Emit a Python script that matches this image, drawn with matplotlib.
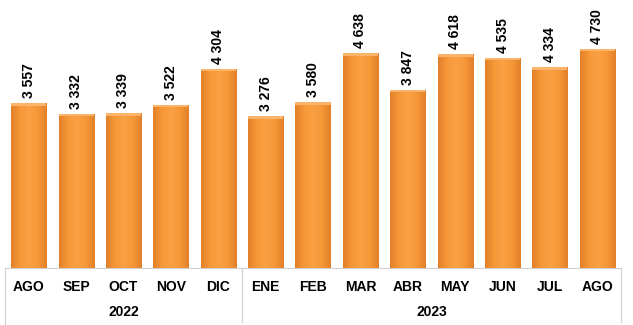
import numpy as np
import matplotlib.pyplot as plt
from matplotlib.colors import LinearSegmentedColormap

# data
months = ['AGO', 'SEP', 'OCT', 'NOV', 'DIC', 'ENE', 'FEB', 'MAR', 'ABR', 'MAY', 'JUN', 'JUL', 'AGO']
values = [3557, 3332, 3339, 3522, 4304, 3276, 3580, 4638, 3847, 4618, 4535, 4334, 4730]
years = ['2022', '2023']
year_counts = [5, 8]

plt.rcParams['font.family'] = ['Liberation Sans', 'DejaVu Sans']

fig = plt.figure(figsize=(6.33, 3.25), dpi=100)
ax = fig.add_axes([5 / 633, 57 / 325, 616 / 633, 268 / 325])

x = np.arange(len(values))
bars = ax.bar(x, values, width=0.74, color='#F59835', edgecolor='none', zorder=2)

# soft horizontal gradient on each bar (slightly darker edges)
cmap = LinearSegmentedColormap.from_list(
    'orange', ['#E3802A', '#F69838', '#F9A144', '#F69838', '#E3802A'])
gx = np.linspace(0, 1, 64).reshape(1, -1)
for b in bars:
    x0, w, h = b.get_x(), b.get_width(), b.get_height()
    im = ax.imshow(gx, cmap=cmap, aspect='auto', extent=[x0, x0 + w, 0, h], zorder=3)
    im.set_clip_path(b)
    # lighter top cap
    ax.fill_between([x0, x0 + w], h - 50, h, color='#FBB46A', zorder=4, lw=0)

for xi, v in zip(x, values):
    label = f'{v:,}'.replace(',', ' ')
    ax.text(xi, v + 110, label, rotation=90, ha='center', va='bottom',
            fontsize=10, fontweight='bold', color='black')

ax.set_xlim(-0.5, len(values) - 0.5)
ax.set_ylim(0, 5790)
for s in ax.spines.values():
    s.set_visible(False)
ax.set_xticks([])
ax.set_yticks([])

# category labels below the axis
px = 5790 / 268
line_kw = dict(color='#D0D0D0', lw=0.8, clip_on=False)
ax.plot([-0.5, len(values) - 0.5], [0, 0], **line_kw)
for xi, m in zip(x, months):
    ax.text(xi, -19 * px, m, ha='center', va='center',
            fontsize=10, fontweight='bold', clip_on=False)

start = -0.5
ax.plot([start, start], [0, -57 * px], **line_kw)
for yr, n in zip(years, year_counts):
    ax.text(start + n / 2, -44 * px, yr, ha='center', va='center',
            fontsize=10, fontweight='bold', clip_on=False)
    start += n
    ax.plot([start, start], [0, -54 * px], **line_kw)

fig.savefig('out.png', dpi=100)
